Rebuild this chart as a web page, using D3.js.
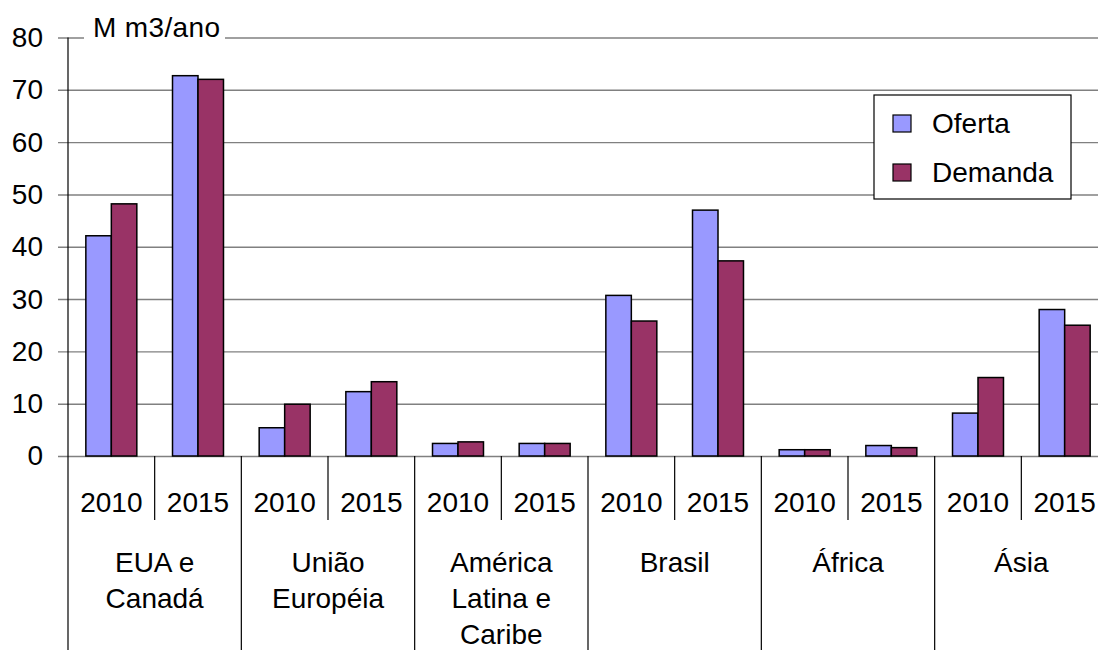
<!DOCTYPE html>
<html>
<head>
<meta charset="utf-8">
<script src="https://cdn.jsdelivr.net/npm/d3@7"></script>
<style>
  body { margin: 0; background: #fff; }
  svg { display: block; font-family: "Liberation Sans", Arial, sans-serif; }
</style>
</head>
<body>
<div id="chart"></div>
<script>
// data
const regions = [["EUA e", "Canadá"], ["União", "Européia"], ["América", "Latina e", "Caribe"], ["Brasil"], ["África"], ["Ásia"]];
const years = ["2010", "2015"];
const series = ["Oferta", "Demanda"];
// one value per region x year, in order
const oferta  = [42.1, 72.7, 5.4, 12.3, 2.4, 2.4, 30.7, 47.0, 1.2, 2.0, 8.2, 28.0];
const demanda = [48.2, 72.0, 9.9, 14.2, 2.7, 2.4, 25.8, 37.3, 1.2, 1.6, 15.0, 25.0];
const yTicks = [0, 10, 20, 30, 40, 50, 60, 70, 80];
const unitLabel = "M m3/ano";

const colors = { "Oferta": "#9999ff", "Demanda": "#993366" };

const w = 1098, h = 650;
const plotLeft = 68, plotRight = 1108, plotTop = 37.5, base = 456;
const fontSize = 28;

const svg = d3.select("#chart").append("svg")
  .attr("width", w)
  .attr("height", h);

const y = d3.scaleLinear().domain([0, 80]).range([base, plotTop]);
const x0 = d3.scaleBand().domain(d3.range(regions.length)).range([plotLeft, plotRight]);
const x1 = d3.scaleBand().domain(years).range([0, x0.bandwidth()]);
const x2 = d3.scaleBand().domain(series).range([0, x1.bandwidth()]).paddingOuter(0.7);

// gridlines + outside ticks
const yAxis = d3.axisLeft(y).tickValues(yTicks).tickSize(-(plotRight - plotLeft)).tickSizeOuter(0).tickPadding(25);
const gy = svg.append("g").attr("transform", `translate(${plotLeft},0)`).call(yAxis);
gy.select(".domain").remove();
gy.selectAll(".tick line")
  .attr("x1", -10)
  .attr("stroke", "#808080")
  .attr("stroke-width", 1.4);
gy.selectAll(".tick text")
  .attr("font-size", fontSize)
  .attr("font-family", "Liberation Sans, Arial, sans-serif")
  .attr("fill", "#000");

// unit label with white background over the top gridline
svg.append("rect").attr("x", 84).attr("y", 12).attr("width", 141).attr("height", 34).attr("fill", "#fff");
svg.append("text")
  .attr("x", 93).attr("y", 36.5)
  .attr("font-size", fontSize)
  .attr("textLength", 127)
  .text(unitLabel);

// bars
const rows = [];
regions.forEach((r, i) => {
  years.forEach((yr, j) => {
    const k = i * years.length + j;
    rows.push({ r: i, yr, s: "Oferta", v: oferta[k] });
    rows.push({ r: i, yr, s: "Demanda", v: demanda[k] });
  });
});

svg.append("g").selectAll("rect")
  .data(rows)
  .join("rect")
  .attr("x", d => x0(d.r) + x1(d.yr) + x2(d.s))
  .attr("y", d => y(d.v))
  .attr("width", x2.bandwidth())
  .attr("height", d => base - y(d.v))
  .attr("fill", d => colors[d.s])
  .attr("stroke", "#000")
  .attr("stroke-width", 1.5);

// y axis line
svg.append("line")
  .attr("x1", plotLeft).attr("x2", plotLeft)
  .attr("y1", plotTop).attr("y2", h)
  .attr("stroke", "#000").attr("stroke-width", 1.2);

// category separators
const sep = svg.append("g").attr("stroke", "#000").attr("stroke-width", 1.2);
regions.forEach((r, i) => {
  if (i > 0) {
    sep.append("line")
      .attr("x1", x0(i)).attr("x2", x0(i))
      .attr("y1", base).attr("y2", h);
  }
  sep.append("line")
    .attr("x1", x0(i) + x1("2015")).attr("x2", x0(i) + x1("2015"))
    .attr("y1", base).attr("y2", 520);
});

// year labels and region names
const labels = svg.append("g").attr("font-size", fontSize).attr("text-anchor", "middle");
regions.forEach((r, i) => {
  years.forEach(yr => {
    labels.append("text")
      .attr("x", x0(i) + x1(yr) + x1.bandwidth() / 2)
      .attr("y", 512)
      .text(yr);
  });
  r.forEach((line, l) => {
    labels.append("text")
      .attr("x", x0(i) + x0.bandwidth() / 2)
      .attr("y", 572 + l * 36)
      .text(line);
  });
});

// legend
const lg = svg.append("g").attr("transform", "translate(874,95)");
lg.append("rect").attr("width", 197).attr("height", 104)
  .attr("fill", "#fff").attr("stroke", "#000").attr("stroke-width", 1.2);
series.forEach((s, i) => {
  const g = lg.append("g").attr("transform", `translate(0,${i * 49})`);
  g.append("rect").attr("x", 19).attr("y", 20).attr("width", 18).attr("height", 17)
    .attr("fill", colors[s]).attr("stroke", "#000").attr("stroke-width", 1.2);
  g.append("text").attr("x", 58).attr("y", 38).attr("font-size", fontSize).text(s);
});
</script>
</body>
</html>
